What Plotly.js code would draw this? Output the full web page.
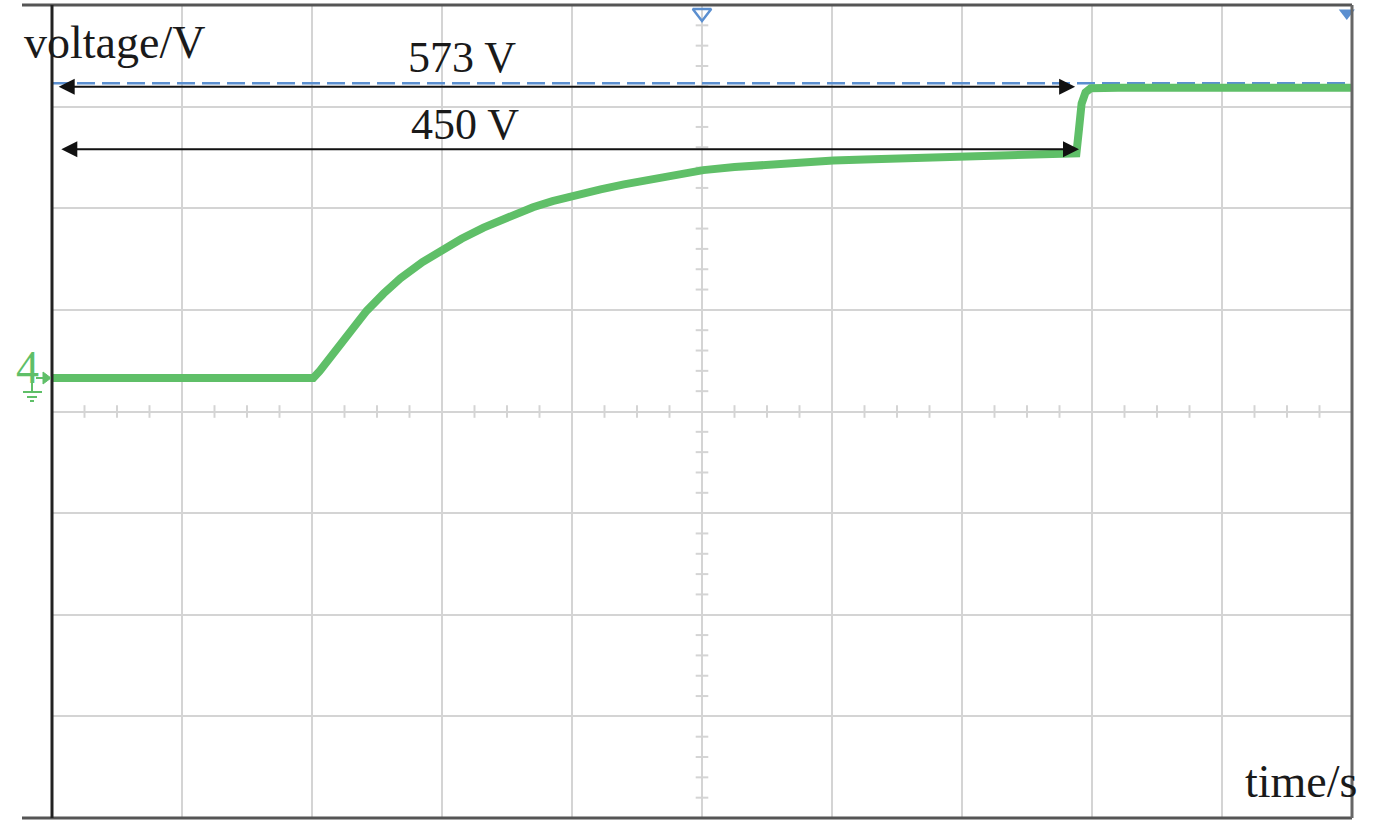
<!DOCTYPE html>
<html>
<head>
<meta charset="utf-8">
<script src="https://cdn.plot.ly/plotly-3.0.1.min.js"></script>
<style>html,body{margin:0;padding:0;background:#fff;}#chart{width:1378px;height:823px;}</style>
</head>
<body>
<div id="chart"></div>
<script>
// ---- data (time in screen divisions, voltage in V) ----
const timeDiv = [0, 2.01, 2.06, 2.11, 2.16, 2.22, 2.30, 2.42, 2.55, 2.68, 2.85, 3.01, 3.15, 3.32, 3.50, 3.70, 3.85, 4.01, 4.22, 4.40, 4.60, 4.80, 5.01, 5.25, 5.50, 5.75, 6.01, 6.25, 6.52, 7.01, 7.45, 7.88, 7.90, 7.92, 7.95, 7.99, 8.2, 10];
const voltage = [0, 0, 14, 30, 46, 66, 93, 132, 166, 196, 228, 254, 274, 296, 317, 336, 348, 359, 371, 381, 390, 400, 409, 415, 420, 424, 428, 430, 432, 436, 439, 442, 490, 540, 562, 570, 571, 571];
const cursorLevel = 580;            // blue dashed cursor
const levels = [573, 450];          // annotated voltages
const levelLabels = ['573 V', '450 V'];
const arrowStart = [0.04, 0.06];
const arrowEnd = [7.87, 7.9];
const triggerTime = 5;

// ---- scale: 10 x 8 divisions, 200 V/div, 0 V offset above center ----
const vPerDiv = 200, center = -66;
const yRange = [center - 4 * vPerDiv, center + 4 * vPerDiv];
const xRange = [0, 10];

const W = 1378, H = 823, L = 52, R = 26, T = 5, B = 5;
const pw = W - L - R, ph = H - T - B;
const px = x => (x - L) / pw;          // pixel -> paper x
const py = y => (H - B - y) / ph;      // pixel -> paper y
const vpp = (yRange[1] - yRange[0]) / ph;  // volts per pixel

const green = '#5fbf68', blue = '#5b8fd0', gridC = '#d4d4d4';
const serif = 'Liberation Serif, Times New Roman, serif';

// minor ticks on center lines
const hx = [], hy = [], vx = [], vy = [];
for (let k = 0; k <= 40; k++) { if (k % 4) { hx.push(k * 0.25); hy.push(center); } }
for (let k = -20; k <= 20; k++) { if (k % 5) { vx.push(5); vy.push(center + k * vPerDiv / 5); } }

const traces = [
  {x: hx, y: hy, mode: 'markers', marker: {symbol: 'line-ns-open', size: 9, color: gridC, line: {width: 2, color: gridC}}, hoverinfo: 'skip', showlegend: false},
  {x: vx, y: vy, mode: 'markers', marker: {symbol: 'line-ew-open', size: 9, color: gridC, line: {width: 2, color: gridC}}, hoverinfo: 'skip', showlegend: false},
  {x: xRange, y: [cursorLevel, cursorLevel], mode: 'lines', line: {color: blue, width: 2.5, dash: '18px,7px'}, hoverinfo: 'skip', showlegend: false},
  {x: timeDiv, y: voltage, mode: 'lines', line: {color: green, width: 8, shape: 'linear'}, showlegend: false},
  {x: [triggerTime], y: [yRange[1] - 8 * vpp], mode: 'markers', marker: {symbol: 'triangle-down-open', size: 16, color: blue, line: {width: 2.5, color: blue}}, cliponaxis: false, hoverinfo: 'skip', showlegend: false},
  {x: [xRange[1] - 0.04], y: [yRange[1] - 8 * vpp], mode: 'markers', marker: {symbol: 'triangle-down', size: 14, color: blue}, cliponaxis: false, hoverinfo: 'skip', showlegend: false}
];

const annotations = [
  {xref: 'paper', yref: 'paper', x: px(22), y: py(42), xanchor: 'left', yanchor: 'middle', text: 'voltage/V', showarrow: false, font: {family: serif, size: 46, color: '#1a1a1a'}},
  {xref: 'paper', yref: 'paper', x: px(1243), y: py(781), xanchor: 'left', yanchor: 'middle', text: 'time/s', showarrow: false, font: {family: serif, size: 46, color: '#1a1a1a'}},
  {xref: 'paper', yref: 'paper', x: px(27), y: py(368), xanchor: 'center', yanchor: 'middle', text: '4', showarrow: false, font: {family: serif, size: 46, color: green}}
];
levels.forEach((lv, i) => {
  annotations.push({x: arrowEnd[i], y: lv, ax: arrowStart[i], ay: lv, xref: 'x', yref: 'y', axref: 'x', ayref: 'y',
    text: '', showarrow: true, arrowside: 'end+start', arrowhead: 2, arrowsize: 1.6, arrowwidth: 2, arrowcolor: '#111'});
});
annotations.push({xref: 'x', yref: 'paper', x: 3.15, y: py(57), xanchor: 'center', yanchor: 'middle', text: levelLabels[0], showarrow: false, font: {family: serif, size: 44, color: '#1a1a1a'}});
annotations.push({xref: 'x', yref: 'paper', x: 3.18, y: py(124), xanchor: 'center', yanchor: 'middle', text: levelLabels[1], showarrow: false, font: {family: serif, size: 44, color: '#1a1a1a'}});

const shapes = [
  // frame
  {type: 'line', xref: 'paper', yref: 'paper', x0: px(22), x1: 1, y0: 1, y1: 1, line: {color: '#555', width: 3}},
  {type: 'line', xref: 'paper', yref: 'paper', x0: px(22), x1: 1, y0: 0, y1: 0, line: {color: '#555', width: 3}},
  {type: 'line', xref: 'paper', yref: 'paper', x0: 1, x1: 1, y0: 0, y1: 1, line: {color: '#666', width: 3}},
  {type: 'line', xref: 'paper', yref: 'paper', x0: 0, x1: 0, y0: 0, y1: 1, line: {color: '#222', width: 3}},
  // channel marker arrow
  {type: 'line', xref: 'paper', yref: 'paper', x0: px(36), x1: px(44), y0: py(378), y1: py(378), line: {color: green, width: 2}},
  {type: 'path', xref: 'paper', yref: 'paper', path: `M ${px(43)} ${py(372)} L ${px(51)} ${py(378)} L ${px(43)} ${py(384)} Z`, fillcolor: green, line: {color: green, width: 1}},
  // ground symbol
  {type: 'line', xref: 'paper', yref: 'paper', x0: px(32), x1: px(32), y0: py(380), y1: py(392), line: {color: green, width: 2}},
  {type: 'line', xref: 'paper', yref: 'paper', x0: px(23), x1: px(42), y0: py(392), y1: py(392), line: {color: green, width: 2}},
  {type: 'line', xref: 'paper', yref: 'paper', x0: px(27), x1: px(37), y0: py(397), y1: py(397), line: {color: green, width: 2}},
  {type: 'line', xref: 'paper', yref: 'paper', x0: px(30), x1: px(34), y0: py(401), y1: py(401), line: {color: green, width: 2}}
];

const layout = {
  width: W, height: H,
  margin: {l: L, r: R, t: T, b: B, pad: 0},
  paper_bgcolor: '#fff', plot_bgcolor: '#fff',
  showlegend: false,
  xaxis: {range: xRange, dtick: 1, tick0: 0, showgrid: true, gridcolor: gridC, gridwidth: 2, zeroline: false, showticklabels: false, ticks: '', showline: false, fixedrange: true},
  yaxis: {range: yRange, dtick: vPerDiv, tick0: center, showgrid: true, gridcolor: gridC, gridwidth: 2, zeroline: false, showticklabels: false, ticks: '', showline: false, fixedrange: true},
  annotations: annotations,
  shapes: shapes
};

Plotly.newPlot('chart', traces, layout, {displayModeBar: false, staticPlot: true});
</script>
</body>
</html>
